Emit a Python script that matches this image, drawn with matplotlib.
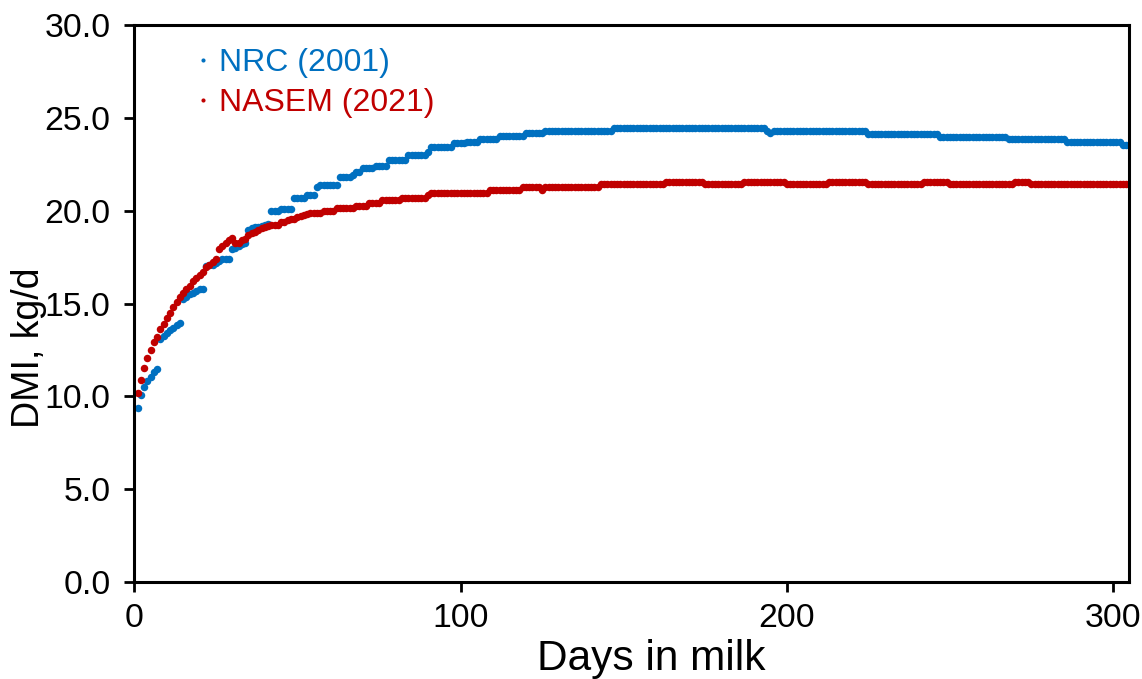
import numpy as np
import matplotlib
matplotlib.use("Agg")
import matplotlib.pyplot as plt

# ---- data: plateau values and how many days each lasts ----
nrc_levels = [9.35, 10.05, 10.5, 10.8, 11.05, 11.3, 11.45, 13.1, 13.25, 13.4, 13.55, 13.7,
              13.85, 13.95, 15.25, 15.35, 15.5, 15.55, 15.65, 15.8,
              17.0, 17.05, 17.1, 17.2, 17.3, 17.38, 17.95, 18.0, 18.1, 18.2, 18.24,
              18.96, 19.05, 19.1, 19.15, 19.2, 19.25, 19.3, 19.97, 20.11, 20.69, 20.83,
              21.27, 21.39, 21.84, 21.93, 22.11, 22.29, 22.4, 22.74, 23.01, 23.18, 23.45,
              23.64, 23.72, 23.85, 24.03, 24.18, 24.3, 24.45, 24.3, 24.2, 24.3, 24.14,
              23.99, 23.85, 23.71, 23.55]
nrc_runs = [1, 1, 1, 1, 1, 1, 1, 1, 1, 1, 1, 1,
            1, 1, 1, 1, 1, 1, 1, 2,
            1, 1, 1, 1, 1, 3, 1, 1, 1, 1, 1,
            1, 1, 1, 1, 1, 1, 1, 3, 4, 4, 3,
            1, 6, 4, 1, 2, 4, 4, 6, 6, 1, 7,
            4, 4, 6, 8, 6, 21, 47, 1, 1, 29, 22,
            21, 18, 17, 3]

nasem_levels = [10.2, 10.9, 11.5, 12.05, 12.5, 12.9, 13.2, 13.6, 13.9, 14.2, 14.5, 14.8,
                15.1, 15.37, 15.55, 15.8, 15.94, 16.23, 16.4, 16.55, 16.7, 16.95, 17.09,
                17.24, 17.4, 17.95, 18.1, 18.24, 18.4, 18.53, 18.24, 18.4, 18.5, 18.67,
                18.8, 18.85, 18.96, 19.05, 19.1, 19.2, 19.25, 19.4, 19.5, 19.54, 19.68,
                19.72, 19.77, 19.83, 19.86, 20.0, 20.13, 20.26, 20.4, 20.58, 20.7, 20.85,
                20.97, 21.12, 21.27, 21.12, 21.27, 21.43, 21.57, 21.43, 21.57, 21.43,
                21.57, 21.43, 21.57, 21.43, 21.57, 21.43]
nasem_runs = [1, 1, 1, 1, 1, 1, 1, 1, 1, 1, 1, 1,
              1, 1, 1, 1, 1, 1, 1, 1, 1, 1, 1,
              1, 1, 1, 1, 1, 1, 1, 2, 1, 1, 1,
              1, 1, 1, 1, 1, 1, 3, 2, 1, 2, 1,
              1, 1, 1, 4, 4, 6, 4, 4, 6, 8, 1,
              18, 10, 6, 1, 17, 20, 12, 12, 13, 13,
              12, 17, 8, 20, 5, 31]

series_names = ["NRC (2001)", "NASEM (2021)"]
x_ticks = [0, 100, 200, 300]
y_ticks = [0, 5, 10, 15, 20, 25, 30]

nrc = np.repeat(nrc_levels, nrc_runs)
nasem = np.repeat(nasem_levels, nasem_runs)
days_nrc = np.arange(1, len(nrc) + 1)
days_nasem = np.arange(1, len(nasem) + 1)

# ---- figure ----
plt.rcParams['font.family'] = ['Liberation Sans', 'DejaVu Sans']
fig = plt.figure(figsize=(11.42, 6.79), dpi=100)
ax = fig.add_axes([0.1176, 0.1433, 0.8713, 0.8194])

blue = '#0070C0'
red = '#C00000'
ax.plot(days_nrc, nrc, 'o', ms=5.4, color=blue, mec='none', label=series_names[0])
ax.plot(days_nasem, nasem, 'o', ms=5.4, color=red, mec='none', label=series_names[1])

ax.set_xlim(0, 305)
ax.set_ylim(0, 30)
ax.set_xticks(x_ticks)
ax.set_yticks(y_ticks)
ax.set_yticklabels([f"{v:.1f}" for v in y_ticks])
ax.tick_params(axis='both', direction='out', length=7, width=2, labelsize=24.3,
               colors='black')
ax.tick_params(axis='y', pad=10)
ax.tick_params(axis='x', pad=8)
for s in ax.spines.values():
    s.set_linewidth(2.2)
    s.set_color('black')

ax.set_xlabel("Days in milk", fontsize=30.5)
ax.xaxis.set_label_coords(0.520, -0.103)
ax.set_ylabel("DMI, kg/d", fontsize=27)
ax.yaxis.set_label_coords(-0.088, 0.42)

leg = ax.legend(loc='upper left', bbox_to_anchor=(0.04, 1.0), frameon=False,
                fontsize=23, handlelength=0.4, handletextpad=0.32, markerscale=0.55,
                labelspacing=0.33, borderaxespad=0.3)
for txt, c in zip(leg.get_texts(), [blue, red]):
    txt.set_color(c)

fig.savefig("out.png", dpi=100)
